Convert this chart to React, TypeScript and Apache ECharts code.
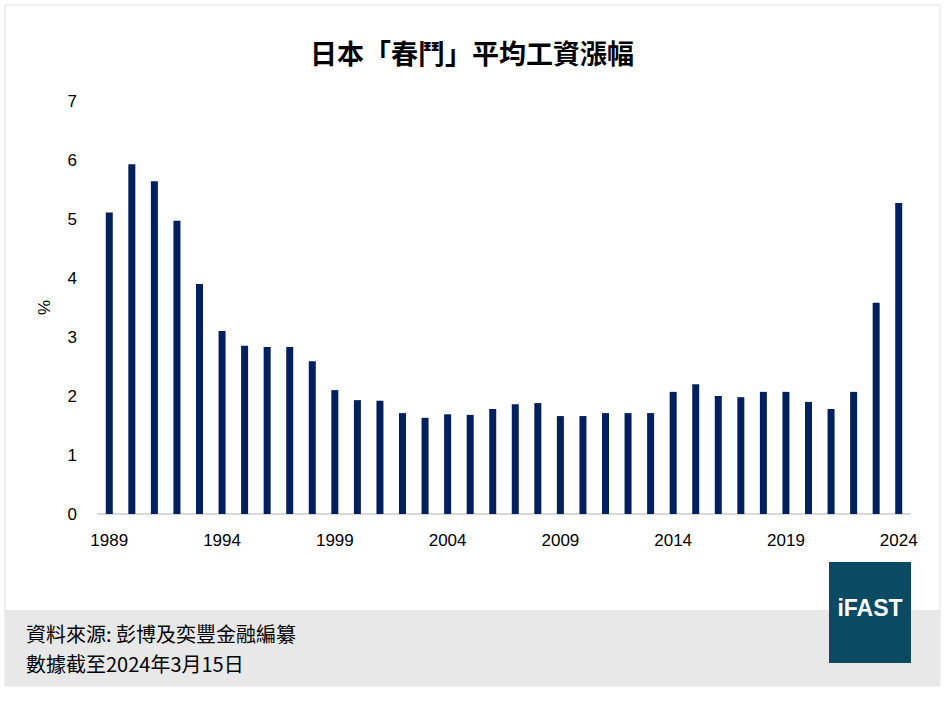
import React, { useEffect, useRef } from "react";
import * as echarts from "echarts";

const years: string[] = [
  "1989","1990","1991","1992","1993","1994","1995","1996","1997","1998",
  "1999","2000","2001","2002","2003","2004","2005","2006","2007","2008",
  "2009","2010","2011","2012","2013","2014","2015","2016","2017","2018",
  "2019","2020","2021","2022","2023","2024",
];
// average wage increase (%)
const wageRise: number[] = [
  5.11, 5.93, 5.64, 4.97, 3.90, 3.10, 2.85, 2.83, 2.83, 2.59,
  2.10, 1.93, 1.92, 1.71, 1.63, 1.69, 1.68, 1.78, 1.86, 1.88,
  1.66, 1.66, 1.71, 1.71, 1.71, 2.07, 2.20, 2.00, 1.98, 2.07,
  2.07, 1.90, 1.78, 2.07, 3.58, 5.27,
];
const yTicks: number[] = [0, 1, 2, 3, 4, 5, 6, 7];

const titleText = "日本「春鬥」平均工資漲幅";
const sourceLine1 = "資料來源: 彭博及奕豐金融編纂";
const sourceLine2 = "數據截至2024年3月15日";

export default function App() {
  const ref = useRef<HTMLDivElement>(null);
  useEffect(() => {
    document.body.style.margin = "0";
    const chart = echarts.init(ref.current!, null, { renderer: "svg" });
    chart.setOption({
      animation: false,
      backgroundColor: "#ffffff",
      title: {
        text: titleText,
        left: "center",
        top: 34,
        textStyle: {
          fontFamily: "Noto Sans CJK TC",
          fontWeight: "bold",
          fontSize: 27,
          color: "#000000",
        },
      },
      grid: { left: 98, right: 34, top: 101, bottom: 187 },
      xAxis: {
        type: "category",
        data: years,
        axisLine: { lineStyle: { color: "#d9d9d9", width: 2 } },
        axisTick: { show: false },
        axisLabel: {
          interval: 4,
          color: "#000000",
          fontFamily: "Liberation Sans",
          fontSize: 17,
          margin: 18,
        },
      },
      yAxis: {
        type: "value",
        min: 0,
        max: 7,
        interval: 1,
        name: "%",
        nameLocation: "middle",
        nameGap: 45,
        nameRotate: 90,
        nameTextStyle: {
          color: "#000000",
          fontFamily: "Liberation Sans",
          fontSize: 17,
        },
        axisLine: { show: false },
        axisTick: { show: false },
        splitLine: { show: false },
        axisLabel: {
          color: "#000000",
          fontFamily: "Liberation Sans",
          fontSize: 17,
          margin: 21,
          formatter: (v: number) => (yTicks.includes(v) ? String(v) : ""),
        },
      },
      series: [
        {
          type: "bar",
          data: wageRise,
          barWidth: 7,
          itemStyle: { color: "#001f5f" },
        },
      ],
      graphic: [
        {
          type: "rect",
          shape: { x: 5, y: 5, width: 935, height: 681 },
          style: { fill: "none", stroke: "#e3e3e3", lineWidth: 1 },
          silent: true,
        },
        {
          type: "rect",
          shape: { x: 5, y: 610, width: 935, height: 76 },
          style: { fill: "#e8e8e8" },
          silent: true,
        },
        {
          type: "text",
          x: 26,
          y: 633,
          style: {
            text: sourceLine1,
            fill: "#000000",
            fontFamily: "Noto Sans CJK TC",
            fontSize: 20,
            lineHeight: 26,
            verticalAlign: "middle",
          },
        },
        {
          type: "text",
          x: 26,
          y: 663,
          style: {
            text: sourceLine2,
            fill: "#000000",
            fontFamily: "Noto Sans CJK TC",
            fontSize: 20,
            lineHeight: 26,
            verticalAlign: "middle",
          },
        },
        {
          type: "rect",
          shape: { x: 829, y: 562, width: 82, height: 101 },
          style: { fill: "#0b4a63" },
        },
        {
          type: "text",
          x: 870,
          y: 608,
          style: {
            text: "iFAST",
            fill: "#ffffff",
            fontFamily: "Liberation Sans",
            fontWeight: "bold",
            fontSize: 23,
            align: "center",
            verticalAlign: "middle",
          },
        },
      ],
    });
    return () => chart.dispose();
  }, []);
  return (
    <div
      ref={ref}
      style={{ position: "absolute", left: 0, top: 0, width: 944, height: 701 }}
    />
  );
}
